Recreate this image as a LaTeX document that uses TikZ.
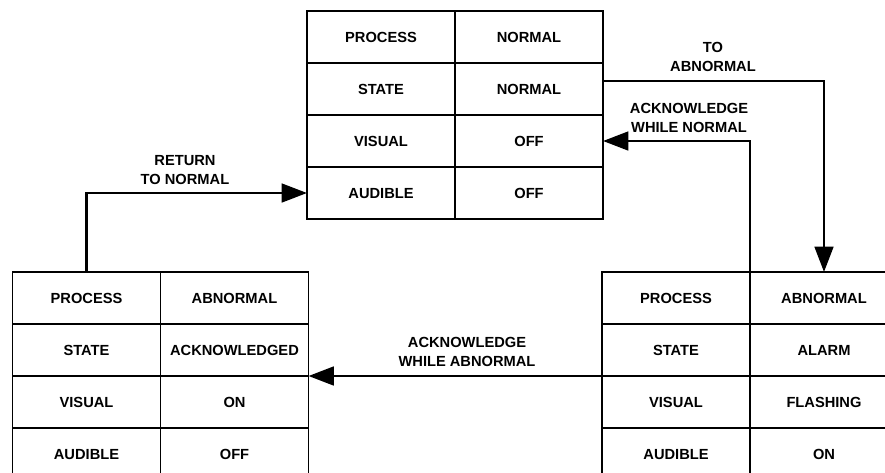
\documentclass[tikz,border=0pt]{standalone}
\usepackage{fontspec}
\setmainfont{Liberation Sans}
\usetikzlibrary{positioning, arrows.meta}

\tikzset{
  cell/.style={draw, rectangle, line width=0.8pt, outer sep=0pt, inner sep=0pt,
    minimum width=111pt, minimum height=39pt, text height=8pt, text depth=0pt,
    font=\bfseries\fontsize{11}{14}\selectfont},
  flow/.style={line width=2pt, -{Triangle[length=19pt, width=14pt]}},
  lbl/.style={align=center, inner sep=0pt, font=\bfseries\fontsize{11}{14}\selectfont}
}

\begin{document}
\begin{tikzpicture}[x=0.75pt, y=-0.75pt, node distance=0pt]
  \useasboundingbox (0,0) rectangle (885,472);

  % normal state (top)
  \node[cell] (tn1) at (381,37) {PROCESS};
  \node[cell] (tn2) [below=of tn1] {STATE};
  \node[cell] (tn3) [below=of tn2] {VISUAL};
  \node[cell] (tn4) [below=of tn3] {AUDIBLE};
  \node[cell] (tv1) [right=of tn1] {NORMAL};
  \node[cell] (tv2) [right=of tn2] {NORMAL};
  \node[cell] (tv3) [right=of tn3] {OFF};
  \node[cell] (tv4) [right=of tn4] {OFF};

  % acknowledged state (left)
  \node[cell] (ln1) at (86.5,298) {PROCESS};
  \node[cell] (ln2) [below=of ln1] {STATE};
  \node[cell] (ln3) [below=of ln2] {VISUAL};
  \node[cell] (ln4) [below=of ln3] {AUDIBLE};
  \node[cell] (lv1) [right=of ln1] {ABNORMAL};
  \node[cell] (lv2) [right=of ln2] {ACKNOWLEDGED};
  \node[cell] (lv3) [right=of ln3] {ON};
  \node[cell] (lv4) [right=of ln4] {OFF};

  % alarm state (right)
  \node[cell] (rn1) at (676,298) {PROCESS};
  \node[cell] (rn2) [below=of rn1] {STATE};
  \node[cell] (rn3) [below=of rn2] {VISUAL};
  \node[cell] (rn4) [below=of rn3] {AUDIBLE};
  \node[cell] (rv1) [right=of rn1] {ABNORMAL};
  \node[cell] (rv2) [right=of rn2] {ALARM};
  \node[cell] (rv3) [right=of rn3] {FLASHING};
  \node[cell] (rv4) [right=of rn4] {ON};

  % transitions
  \coordinate (toab) at (602,81);
  \draw[flow] (toab) -| (rv1.north);
  \draw[flow] (rn1.north east) |- (tv3.east);
  \draw[flow] (rn2.south west) -- (lv2.south east);
  \draw[flow] (ln1.north) |- (tn4.west);

  \node[lbl] (ltoab) at (713,57) {TO\\ABNORMAL};
  \node[lbl] (lackn) at (689,118) {ACKNOWLEDGE\\WHILE NORMAL};
  \node[lbl] (lacka) at (467,352) {ACKNOWLEDGE\\WHILE ABNORMAL};
  \node[lbl] (lret) at (185,170) {RETURN\\TO NORMAL};
\end{tikzpicture}
\end{document}
